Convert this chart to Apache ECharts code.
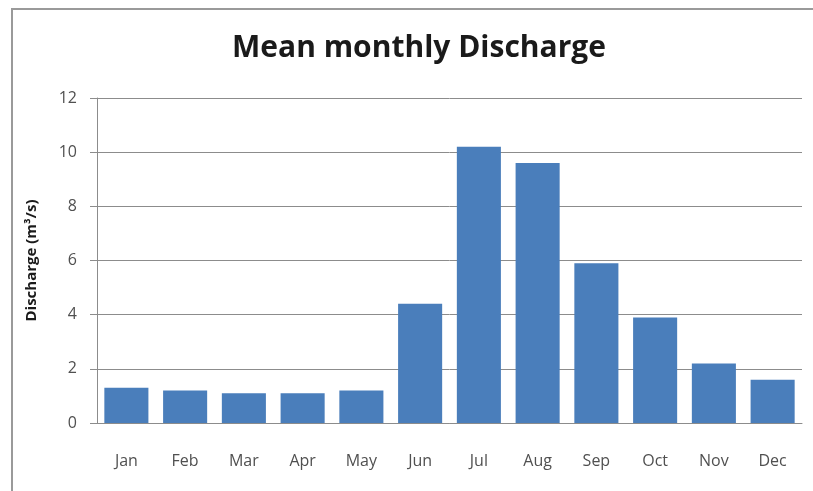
<!DOCTYPE html>
<html>
<head>
<meta charset="utf-8">
<script src="https://cdn.jsdelivr.net/npm/echarts@6/dist/echarts.min.js"></script>
<style>
  html, body { margin: 0; padding: 0; background: #fff; }
  #chart { width: 813px; height: 491px; }
</style>
</head>
<body>
<div id="chart"></div>
<script>
// Mean monthly discharge per month (m³/s)
const months = ['Jan', 'Feb', 'Mar', 'Apr', 'May', 'Jun', 'Jul', 'Aug', 'Sep', 'Oct', 'Nov', 'Dec'];
const discharge = [1.3, 1.2, 1.1, 1.1, 1.2, 4.4, 10.2, 9.6, 5.9, 3.9, 2.2, 1.6];
const yTicks = [0, 2, 4, 6, 8, 10, 12];

const chart = echarts.init(document.getElementById('chart'), null, { renderer: 'canvas' });

const fontFamily = '"Open Sans", "Noto Sans", sans-serif';
const textColor = '#505050';
const lineColor = '#8c8c8c';

chart.setOption({
  animation: false,
  backgroundColor: '#ffffff',
  title: {
    text: 'Mean monthly Discharge',
    left: 414,
    top: 28,
    textAlign: 'center',
    textStyle: { fontFamily, fontSize: 30, fontWeight: 'bold', color: '#1a1a1a' }
  },
  graphic: [
    {
      type: 'polyline',
      shape: { points: [[12, 491], [12, 9], [813, 9]] },
      style: { stroke: '#9a9a9a', lineWidth: 2, fill: null },
      silent: true
    }
  ],
  grid: { left: 97, right: 11, top: 98, bottom: 68 },
  xAxis: {
    type: 'category',
    data: months,
    axisLine: { show: true, lineStyle: { color: lineColor, width: 1 } },
    axisTick: { show: false },
    axisLabel: { color: textColor, fontFamily, fontSize: 16, margin: 30 }
  },
  yAxis: {
    type: 'value',
    min: yTicks[0],
    max: yTicks[yTicks.length - 1],
    interval: 2,
    name: 'Discharge (m³/s)',
    nameLocation: 'middle',
    nameGap: 58,
    nameTextStyle: { fontFamily, fontSize: 15, fontWeight: 'bold', color: '#1a1a1a' },
    axisLine: { show: true, lineStyle: { color: lineColor, width: 1 } },
    axisTick: { show: true, length: 7, lineStyle: { color: lineColor } },
    axisLabel: {
      color: textColor, fontFamily, fontSize: 16, margin: 20,
      formatter: v => (yTicks.includes(v) ? String(v) : '')
    },
    splitLine: { show: true, lineStyle: { color: lineColor, width: 1 } }
  },
  series: [{
    type: 'bar',
    data: discharge,
    barCategoryGap: '25%',
    itemStyle: { color: '#4a7ebb' }
  }]
});
</script>
</body>
</html>
